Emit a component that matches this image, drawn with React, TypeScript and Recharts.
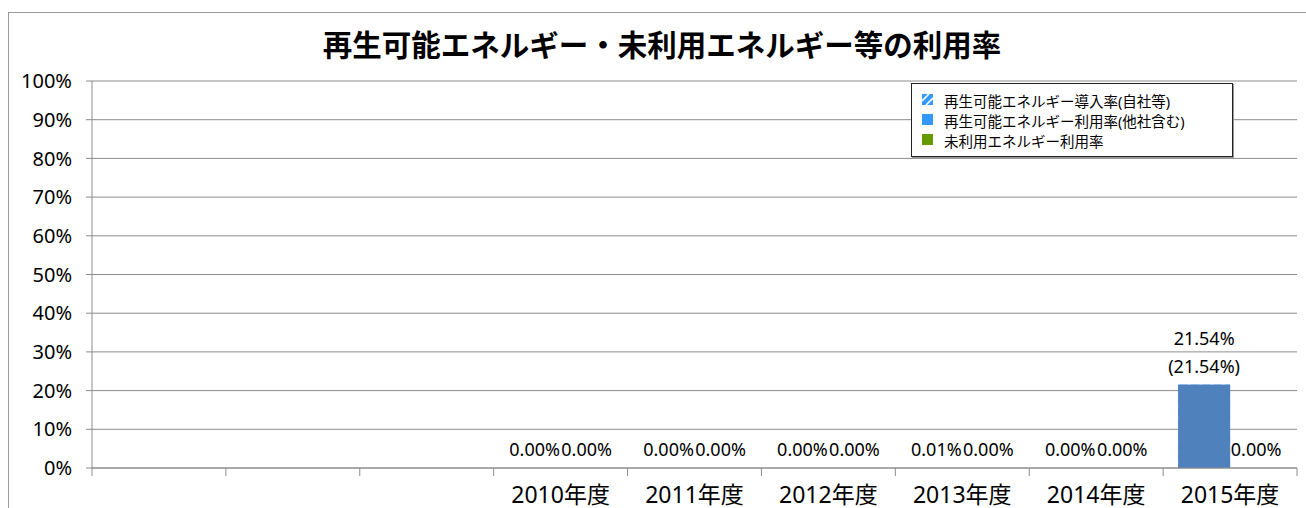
import { BarChart, Bar, XAxis, YAxis, CartesianGrid } from 'recharts';

const categories = ['', '', '', '2010年度', '2011年度', '2012年度', '2013年度', '2014年度', '2015年度'];
const selfRate = [null, null, null, 0, 0, 0, 0, 0, 21.54];
const renewableRate = [null, null, null, 0, 0, 0, 0.01, 0, 21.54];
const unusedRate = [null, null, null, 0, 0, 0, 0, 0, 0];
const yTicks = [0, 10, 20, 30, 40, 50, 60, 70, 80, 90, 100];

const legendItems = [
    { name: '再生可能エネルギー導入率(自社等)', color: '#3399ff', hatch: true },
    { name: '再生可能エネルギー利用率(他社含む)', color: '#3399ff', hatch: false },
    { name: '未利用エネルギー利用率', color: '#669900', hatch: false },
];

const FONT = "'Noto Sans', 'Noto Sans CJK JP', sans-serif";
const W = 1306;
const H = 540;
const Y_AXIS_W = 92;
const M = { top: 81, right: 9, left: 0, bottom: 32 };
const X_AXIS_H = 40;
const PLOT_BOTTOM = H - M.bottom - X_AXIS_H;
const BAND = (W - Y_AXIS_W - M.left - M.right) / categories.length;

const data = categories.map((name, i) => ({
    name,
    self: selfRate[i],
    renewable: renewableRate[i],
    unused: unusedRate[i],
}));

const pct = (v: number) => `${v.toFixed(2)}%`;

function CategoryTick(props: any) {
    const { x, payload, index } = props;
    const half = BAND / 2;
    return (
        <g>
            <line x1={x - half} x2={x - half} y1={PLOT_BOTTOM} y2={PLOT_BOTTOM + 8} stroke="#8c8c8c" />
            {index === categories.length - 1 && (
                <line x1={x + half} x2={x + half} y1={PLOT_BOTTOM} y2={PLOT_BOTTOM + 8} stroke="#8c8c8c" />
            )}
            <text x={x} y={PLOT_BOTTOM + 35} textAnchor="middle" fontSize={23} fill="#000">
                {payload.value}
            </text>
        </g>
    );
}

// bar + its data label drawn together, so zero-height bars still get a label
function makeShape(kind: 'self' | 'renewable' | 'unused') {
    return function BarWithLabel(props: any) {
        const { x, y, width, height, fill, payload } = props;
        const v = payload?.[kind];
        if (v == null || x == null) return <g />;
        const cx = x + width / 2;
        let label: string | null = pct(v);
        let ly = y - 12;
        if (kind === 'self') {
            label = v > 0 ? pct(v) : null;
            ly = y - 40;
        } else if (kind === 'renewable' && (payload.self ?? 0) > 0) {
            label = `(${pct(v)})`;
        }
        return (
            <g>
                {height > 0 && <rect x={x} y={y} width={width} height={height} fill={fill} />}
                {label && (
                    <text x={cx} y={ly} textAnchor="middle" fontSize={18} fill="#000">
                        {label}
                    </text>
                )}
            </g>
        );
    };
}

function LegendBox() {
    return (
        <div
            style={{
                position: 'absolute',
                left: 911,
                top: 83,
                width: 322,
                height: 74,
                border: '1px solid #222',
                boxShadow: '1px 1px 0 #999',
                background: '#fff',
                boxSizing: 'border-box',
                paddingTop: 6,
                paddingLeft: 10,
                fontFamily: FONT,
                fontSize: 14.5,
                color: '#000',
            }}
        >
            {legendItems.map((item) => (
                <div key={item.name} style={{ display: 'flex', alignItems: 'center', height: 20 }}>
                    <svg width={11} height={11} style={{ marginRight: 11, marginTop: -2 }}>
                        <rect width={11} height={11} fill={item.color} />
                        {item.hatch && (
                            <g stroke="#fff" strokeWidth={1.6}>
                                <line x1={0} y1={7} x2={7} y2={0} />
                                <line x1={4} y1={11} x2={11} y2={4} />
                            </g>
                        )}
                    </svg>
                    <span>{item.name}</span>
                </div>
            ))}
        </div>
    );
}

export default function App() {
    return (
        <div
            style={{
                position: 'absolute',
                left: 0,
                top: 0,
                width: W,
                height: 508,
                overflow: 'hidden',
                background: '#fff',
                fontFamily: FONT,
            }}
        >
            <div
                style={{
                    position: 'absolute',
                    left: 8,
                    top: 12,
                    width: 1400,
                    height: 600,
                    borderLeft: '1px solid #9a9a9a',
                    borderTop: '1px solid #9a9a9a',
                }}
            />
            <div
                style={{
                    position: 'absolute',
                    left: 0,
                    top: 23,
                    width: 1324,
                    textAlign: 'center',
                    fontFamily: "'Noto Sans CJK JP', sans-serif",
                    fontWeight: 'bold',
                    fontSize: 29.5,
                    lineHeight: '40px',
                    color: '#000',
                }}
            >
                再生可能エネルギー・未利用エネルギー等の利用率
            </div>
            <div style={{ position: 'absolute', left: 0, top: 0 }}>
                <BarChart width={W} height={H} data={data} margin={M} barGap={0}>
                    <defs>
                        <pattern id="hatch" width={8} height={8} patternUnits="userSpaceOnUse" patternTransform="rotate(45)">
                            <rect width={8} height={8} fill="#3399ff" />
                            <line x1={0} y1={0} x2={0} y2={8} stroke="#fff" strokeWidth={3} />
                        </pattern>
                    </defs>
                    <CartesianGrid vertical={false} stroke="#8c8c8c" />
                    <XAxis
                        dataKey="name"
                        interval={0}
                        height={X_AXIS_H}
                        tickLine={false}
                        axisLine={{ stroke: '#8c8c8c' }}
                        tick={<CategoryTick />}
                    />
                    <XAxis xAxisId="back" dataKey="name" hide />
                    <YAxis
                        width={Y_AXIS_W}
                        domain={[0, 100]}
                        ticks={yTicks}
                        tickFormatter={(v: number) => `${v}%`}
                        tick={{ fontSize: 20, fill: '#000' }}
                        tickSize={6}
                        tickMargin={14}
                        stroke="#8c8c8c"
                    />
                    <Bar xAxisId="back" dataKey="self" fill="url(#hatch)" barSize={52} isAnimationActive={false} shape={makeShape('self')} />
                    <Bar xAxisId="back" dataKey="unused" fill="transparent" barSize={52} isAnimationActive={false} shape={() => <g />} />
                    <Bar dataKey="renewable" fill="#4f81bd" barSize={52} isAnimationActive={false} shape={makeShape('renewable')} />
                    <Bar dataKey="unused" fill="#669900" barSize={52} isAnimationActive={false} shape={makeShape('unused')} />
                </BarChart>
            </div>
            <LegendBox />
        </div>
    );
}
